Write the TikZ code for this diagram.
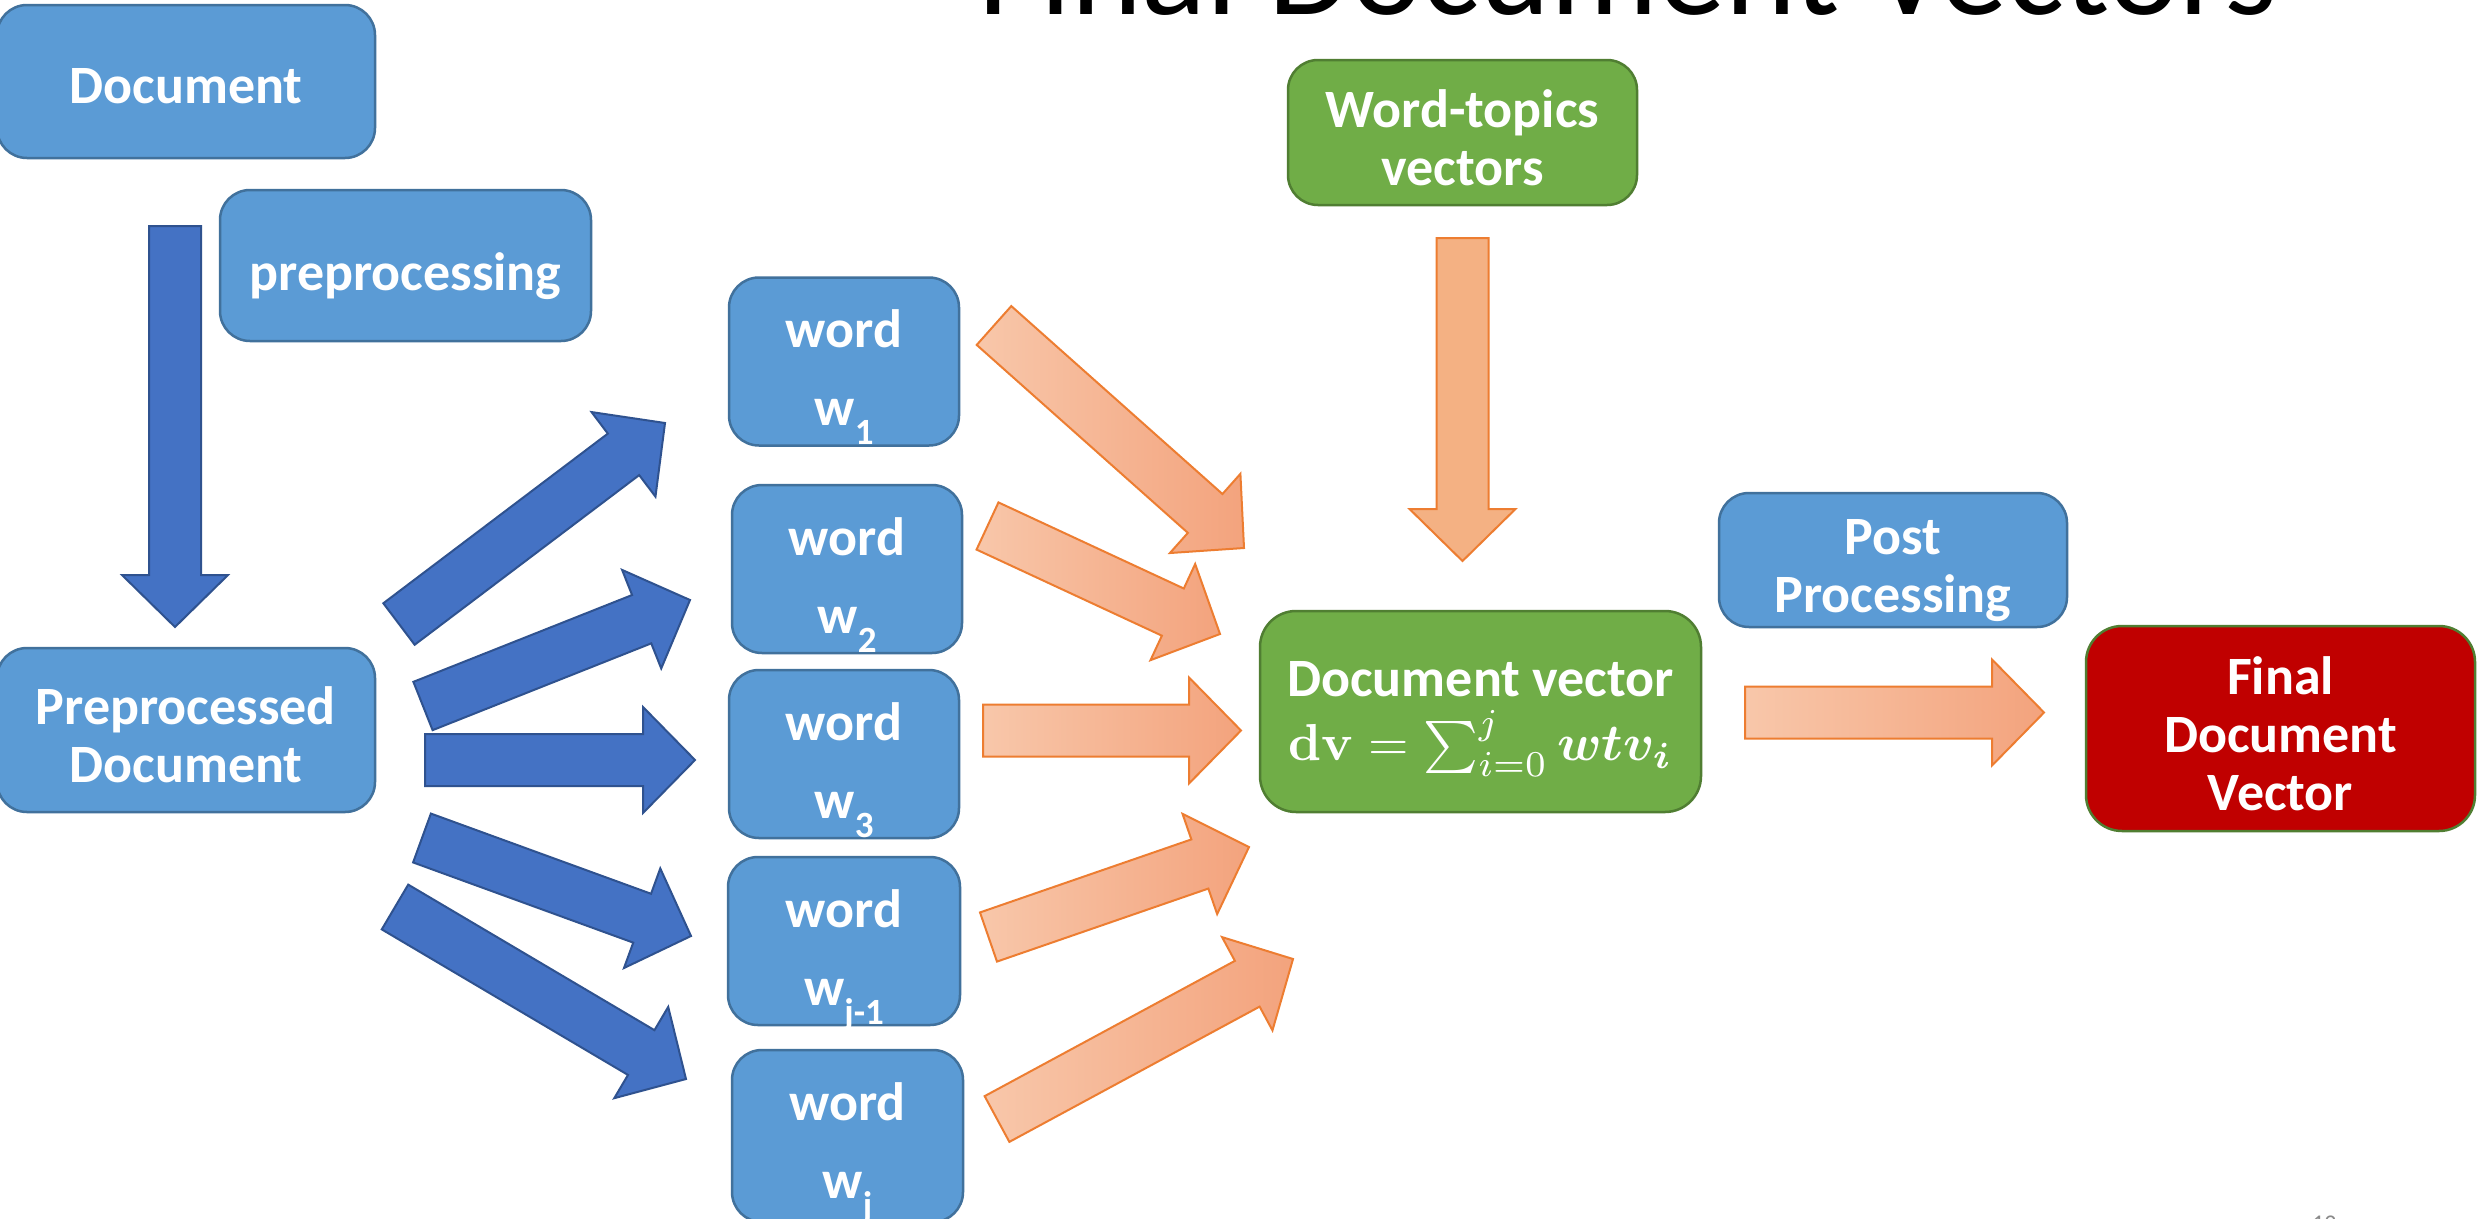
\documentclass[tikz,border=0pt]{standalone}
\usepackage{amsmath}
\usepackage{bm}
\usepackage{graphicx}
\usepackage[no-math]{fontspec}
\setmainfont{Carlito}
\usetikzlibrary{calc}

\definecolor{boxblue}{HTML}{5B9BD5}
\definecolor{boxblueline}{HTML}{41719C}
\definecolor{arrblue}{HTML}{4472C4}
\definecolor{arrblueline}{HTML}{2F528F}
\definecolor{boxgreen}{HTML}{70AD47}
\definecolor{boxgreenline}{HTML}{507E32}
\definecolor{boxred}{HTML}{C00000}
\definecolor{orline}{HTML}{ED7D31}
\definecolor{orlight}{HTML}{F8C7AA}
\definecolor{ordark}{HTML}{F3A37D}
\definecolor{orsolid}{HTML}{F4B183}
\definecolor{pagegray}{HTML}{8A8A8A}

\newcommand\boxfont{\bfseries\fontsize{54}{58}\selectfont}
% box text: first baseline #1 below the node centre, lines #2
\newcommand\btext[2]{\raisebox{-#1}[0pt][0pt]{\begin{tabular}[t]{@{}c@{}}#2\end{tabular}}}
% lowered index after a word letter
\newcommand\wsub[1]{\raisebox{-19pt}{\fontsize{37}{40}\selectfont\bfseries #1}}
% sum formula, set at 10pt and enlarged
\newcommand\dvformula{\raisebox{0pt}[40pt][16pt]{\scalebox{5.2}{\fontsize{10}{12}\selectfont
  $\mathbf{dv} = \sum_{i=0}^{j}\bm{wtv_i}$}}}

% block arrow: style, tail point, tip point
\newcommand\fatarrow[3]{%
  \coordinate (hb) at ($(#3)!52pt!(#2)$);
  \draw[#1] ($(#2)!26pt!90:(#3)$) -- ($(hb)!26pt!90:(#3)$) -- ($(hb)!53pt!90:(#3)$)
    -- (#3) -- ($(hb)!53pt!-90:(#3)$) -- ($(hb)!26pt!-90:(#3)$)
    -- ($(#2)!26pt!-90:(#3)$) -- cycle;
}

\begin{document}
\begin{tikzpicture}[x=1pt,y=-1pt,
  roundbox/.style={rounded corners=30pt, line width=2.5pt, inner sep=0pt,
    text=white, font=\boxfont},
  bluebox/.style={roundbox, draw=boxblueline, fill=boxblue},
  greenbox/.style={roundbox, draw=boxgreenline, fill=boxgreen},
  redbox/.style={roundbox, draw=boxgreenline, fill=boxred},
  wordbox/.style={bluebox, minimum width=230pt, minimum height=168pt},
  bluearrow/.style={draw=arrblueline, fill=arrblue, line width=2pt},
  orangearrow/.style={draw=orline, line width=2pt, left color=orlight, right color=ordark},
  orangesolid/.style={draw=orline, fill=orsolid, line width=2pt},
]
\useasboundingbox (0,0) rectangle (2478,1218);
\clip (0,0) rectangle (2478,1218);
\fill[white] (0,0) rectangle (2478,1218);

% heading and page number
\node[anchor=base west, inner sep=0pt, font=\fontsize{135}{140}\selectfont] (title)
  at (978,14) {Final Document Vectors};
\node[anchor=base west, inner sep=0pt, text=pagegray, font=\fontsize{24}{28}\selectfont] (pagenum)
  at (2312,1231) {12};

% left column
\node[bluebox, minimum width=378pt, minimum height=153pt] (doc) at (186,81.5)
  {\btext{22pt}{Document}};
\node[bluebox, minimum width=371pt, minimum height=151pt] (prep) at (405.5,265.5)
  {\btext{25pt}{preprocessing}};
\node[bluebox, minimum width=378pt, minimum height=164pt] (ppdoc) at (186,730)
  {\btext{-6pt}{Preprocessed\\Document}};

% word boxes
\node[wordbox] (w1) at (844,361.5) {\btext{-14pt}{word\\[20pt] w\wsub{1}}};
\node[wordbox] (w2) at (847,569) {\btext{-14pt}{word\\[20pt] w\wsub{2}}};
\node[wordbox] (w3) at (844,754) {\btext{-14pt}{word\\[20pt] w\wsub{3}}};
\node[wordbox, minimum width=232pt] (wj1) at (844,941) {\btext{-14pt}{word\\[20pt] w\wsub{j-1}}};
\node[wordbox, minimum width=231pt, minimum height=172pt] (wj) at (847.5,1136)
  {\btext{-16pt}{word\\[20pt] w\wsub{j}}};

% right part
\node[greenbox, minimum width=349pt, minimum height=145pt] (topics) at (1462.5,132.5)
  {\btext{-5pt}{Word-topics\\vectors}};
\node[greenbox, rounded corners=36pt, minimum width=441pt, minimum height=201pt] (dv) at (1480.5,711.5)
  {\btext{-15pt}{Document vector\\[6pt] \dvformula}};
\node[bluebox, minimum width=348pt, minimum height=134pt] (post) at (1893,560)
  {\btext{-6pt}{Post\\Processing}};
\node[redbox, rounded corners=36pt, minimum width=389pt, minimum height=205pt] (final) at (2280.5,728.5)
  {\btext{-34pt}{Final\\Document\\Vector}};

% arrow end points
\coordinate (b0s) at (175,226);   \coordinate (b0e) at (175,627);
\coordinate (b1s) at (399,624);   \coordinate (b1e) at (665,423);
\coordinate (b2s) at (423,706);   \coordinate (b2e) at (690,600);
\coordinate (b3s) at (425,760);   \coordinate (b3e) at (695,760);
\coordinate (b4s) at (422,838);   \coordinate (b4e) at (691,936);
\coordinate (b5s) at (395,907);   \coordinate (b5e) at (686,1079);

\coordinate (o0s) at (1462.5,238); \coordinate (o0e) at (1462.5,561);
\coordinate (o1s) at (994,325.5);  \coordinate (o1e) at (1244,548);
\coordinate (o2s) at (987.5,526);  \coordinate (o2e) at (1220,634);
\coordinate (o3s) at (983,730.5);  \coordinate (o3e) at (1241,730.5);
\coordinate (o4s) at (988.5,937);  \coordinate (o4e) at (1249,847);
\coordinate (o5s) at (997,1119);   \coordinate (o5e) at (1293,959);
\coordinate (o6s) at (1745,712.5); \coordinate (o6e) at (2044,712.5);

% block arrows
\fatarrow{bluearrow}{b0s}{b0e}
\fatarrow{bluearrow}{b1s}{b1e}
\fatarrow{bluearrow}{b2s}{b2e}
\fatarrow{bluearrow}{b3s}{b3e}
\fatarrow{bluearrow}{b4s}{b4e}
\fatarrow{bluearrow}{b5s}{b5e}

\fatarrow{orangesolid}{o0s}{o0e}
\fatarrow{orangearrow}{o1s}{o1e}
\fatarrow{orangearrow}{o2s}{o2e}
\fatarrow{orangearrow}{o3s}{o3e}
\fatarrow{orangearrow}{o4s}{o4e}
\fatarrow{orangearrow}{o5s}{o5e}
\fatarrow{orangearrow}{o6s}{o6e}
\end{tikzpicture}
\end{document}
